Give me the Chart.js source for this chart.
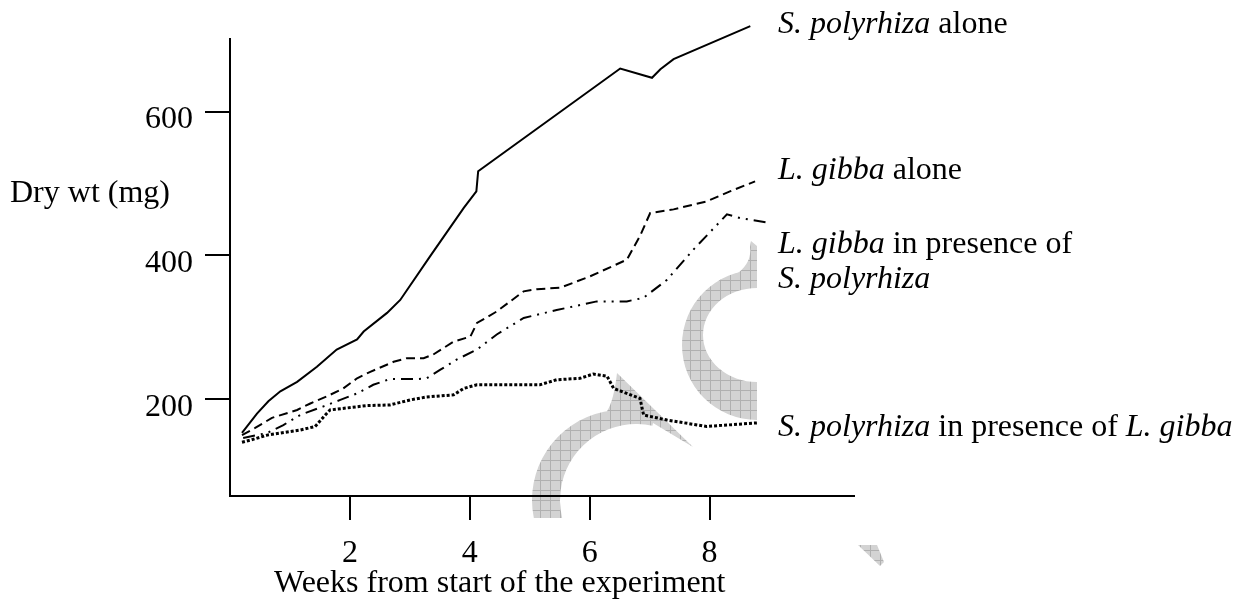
<!DOCTYPE html>
<html>
<head>
<meta charset="utf-8">
<script src="https://cdn.jsdelivr.net/npm/chart.js@4"></script>
<style>
  html, body { margin: 0; padding: 0; background: #fff; }
  canvas { display: block; }
</style>
</head>
<body>
<canvas id="chartCanvas" width="1241" height="605"></canvas>
<script>
// S. polyrhiza alone (solid)
let weeksSpAlone = [0.20, 0.45, 0.64, 0.84, 1.12, 1.45, 1.78, 2.12, 2.23, 2.62, 2.84, 3.34, 3.90, 4.11, 4.14, 6.51, 7.04, 7.18, 7.40, 8.68];
let dryWtSpAlone = [153, 180, 197, 211, 224, 245, 269, 283, 294, 320, 338, 399, 466, 489, 517, 660, 647, 659, 673, 719];

// L. gibba alone (dashed)
let weeksLgAlone = [0.20, 0.42, 0.70, 1.12, 1.34, 1.62, 1.89, 2.12, 2.34, 2.73, 2.95, 3.23, 3.39, 3.73, 4.01, 4.12, 4.45, 4.90, 5.12, 5.51, 6.01, 6.62, 6.84, 7.01, 7.40, 7.95, 8.34, 8.76];
let dryWtLgAlone = [150, 160, 174, 185, 194, 204, 215, 229, 238, 252, 257, 257, 262, 280, 287, 306, 322, 350, 353, 355, 371, 394, 427, 459, 464, 475, 489, 503];

// L. gibba in presence of S. polyrhiza (dash-dot-dot)
let weeksLgWithSp = [0.22, 0.62, 0.89, 1.17, 1.56, 1.84, 2.12, 2.39, 2.67, 3.12, 3.28, 3.51, 3.78, 4.12, 4.45, 4.90, 5.45, 6.12, 6.62, 6.90, 7.29, 7.73, 8.29, 8.51, 9.01];
let dryWtLgWithSp = [146, 153, 164, 178, 190, 199, 208, 220, 228, 228, 229, 241, 255, 269, 290, 313, 324, 336, 336, 341, 366, 408, 457, 452, 445];

// S. polyrhiza in presence of L. gibba (dotted)
let weeksSpWithLg = [0.20, 0.34, 0.62, 1.17, 1.42, 1.59, 1.67, 2.28, 2.67, 3.01, 3.28, 3.73, 3.90, 4.12, 5.17, 5.45, 5.84, 6.06, 6.29, 6.40, 6.62, 6.84, 6.90, 7.29, 7.95, 8.79];
let dryWtSpWithLg = [140, 143, 150, 157, 162, 178, 185, 191, 192, 199, 203, 206, 215, 220, 220, 227, 229, 235, 232, 215, 208, 201, 178, 171, 162, 167];

let xTicks = [2, 4, 6, 8];
let yTicks = [200, 400, 600];

function toPoints(xs, ys) {
    return xs.map((x, i) => ({ x: x, y: ys[i] }));
}

const SERIF = '"Liberation Serif", "Times New Roman", serif';

function drawParts(ctx, x, y, parts) {
    parts.forEach(p => {
        ctx.font = (p.i ? 'italic ' : '') + '32px ' + SERIF;
        ctx.fillText(p.t, x, y);
        x += ctx.measureText(p.t).width;
    });
}

function hatch(ctx) {
    let c = document.createElement('canvas');
    c.width = 10; c.height = 10;
    let g = c.getContext('2d');
    g.fillStyle = '#d3d3d3';
    g.fillRect(0, 0, 10, 10);
    g.fillStyle = '#b0b0b0';
    g.fillRect(0, 0, 10, 1);
    g.fillRect(0, 0, 1, 10);
    return ctx.createPattern(c, 'repeat');
}

// grey background shapes + text labels
let decor = {
    id: 'decor',
    beforeDraw(chart) {
        let ctx = chart.ctx;
        ctx.save();
        ctx.fillStyle = hatch(ctx);

        // arc at the bottom
        ctx.beginPath();
        ctx.arc(622, 500, 90, 2.940, 4.545, false);
        ctx.quadraticCurveTo(614, 400, 617, 373);
        ctx.lineTo(693, 447);
        ctx.lineTo(653, 423);
        ctx.arc(636, 500, 76, 4.930, 2.903, true);
        ctx.closePath();
        ctx.fill();

        // C shape on the right
        ctx.beginPath();
        ctx.moveTo(757, 270);
        ctx.ellipse(757, 345, 75, 75, 0, -Math.PI / 2, Math.PI / 2, true);
        ctx.lineTo(757, 382);
        ctx.ellipse(757, 335, 54, 47, 0, Math.PI / 2, Math.PI * 1.5, false);
        ctx.closePath();
        ctx.fill();

        ctx.beginPath();
        ctx.moveTo(751, 241);
        ctx.lineTo(757, 246);
        ctx.lineTo(757, 273);
        ctx.lineTo(738, 273);
        ctx.quadraticCurveTo(752, 262, 750, 247);
        ctx.closePath();
        ctx.fill();

        // small wedge bottom right
        ctx.beginPath();
        ctx.moveTo(858, 545);
        ctx.lineTo(877, 545);
        ctx.lineTo(884, 562);
        ctx.lineTo(880, 566);
        ctx.closePath();
        ctx.fill();
        ctx.restore();
    },
    afterDraw(chart) {
        let ctx = chart.ctx;
        ctx.save();
        ctx.fillStyle = '#000';
        ctx.textBaseline = 'alphabetic';
        ctx.textAlign = 'left';
        drawParts(ctx, 10, 202, [{ t: 'Dry wt (mg)' }]);
        drawParts(ctx, 274, 592, [{ t: 'Weeks from start of the experiment' }]);
        drawParts(ctx, 778, 33, [{ t: 'S. polyrhiza', i: 1 }, { t: ' alone' }]);
        drawParts(ctx, 778, 179, [{ t: 'L. gibba', i: 1 }, { t: ' alone' }]);
        drawParts(ctx, 778, 253, [{ t: 'L. gibba', i: 1 }, { t: ' in presence of' }]);
        drawParts(ctx, 778, 288, [{ t: 'S. polyrhiza', i: 1 }]);
        drawParts(ctx, 778, 436, [{ t: 'S. polyrhiza', i: 1 }, { t: ' in presence of ' }, { t: 'L. gibba', i: 1 }]);
        ctx.restore();
    }
};

let ctx = document.getElementById('chartCanvas').getContext('2d');
let chart = new Chart(ctx, {
    type: 'line',
    data: {
        datasets: [{
            label: 'S. polyrhiza alone',
            data: toPoints(weeksSpAlone, dryWtSpAlone),
            borderColor: '#000',
            borderWidth: 2,
            borderDash: []
        }, {
            label: 'L. gibba alone',
            data: toPoints(weeksLgAlone, dryWtLgAlone),
            borderColor: '#000',
            borderWidth: 2,
            borderDash: [9, 5]
        }, {
            label: 'L. gibba in presence of S. polyrhiza',
            data: toPoints(weeksLgWithSp, dryWtLgWithSp),
            borderColor: '#000',
            borderWidth: 2,
            borderDash: [12, 6, 2, 6, 2, 6]
        }, {
            label: 'S. polyrhiza in presence of L. gibba',
            data: toPoints(weeksSpWithLg, dryWtSpWithLg),
            borderColor: '#000',
            borderWidth: 3,
            borderDash: [3, 2]
        }]
    },
    options: {
        responsive: false,
        animation: false,
        layout: { padding: { left: 0, top: 39, right: 387, bottom: 0 } },
        datasets: {
            line: {
                pointRadius: 0,
                fill: false,
                tension: 0,
                clip: false
            }
        },
        plugins: {
            legend: { display: false },
            tooltip: { enabled: false }
        },
        scales: {
            x: {
                type: 'linear',
                min: 0,
                max: 10.41,
                afterBuildTicks: s => { s.ticks = xTicks.map(v => ({ value: v })); },
                afterFit: s => { s.height = 109; },
                grid: { drawOnChartArea: false, drawTicks: true, tickLength: 24, color: '#000', lineWidth: 2 },
                border: { display: true, color: '#000', width: 2 },
                ticks: { color: '#000', font: { family: SERIF, size: 32 }, padding: 14, maxRotation: 0, autoSkip: false }
            },
            y: {
                min: 65.3,
                max: 701,
                afterBuildTicks: s => { s.ticks = yTicks.map(v => ({ value: v })); },
                afterFit: s => { s.width = 230; },
                grid: { drawOnChartArea: false, drawTicks: true, tickLength: 25, color: '#000', lineWidth: 2 },
                border: { display: true, color: '#000', width: 2 },
                ticks: { color: '#000', font: { family: SERIF, size: 32 }, padding: 12, labelOffset: 8 }
            }
        }
    },
    plugins: [decor]
});
</script>
</body>
</html>
